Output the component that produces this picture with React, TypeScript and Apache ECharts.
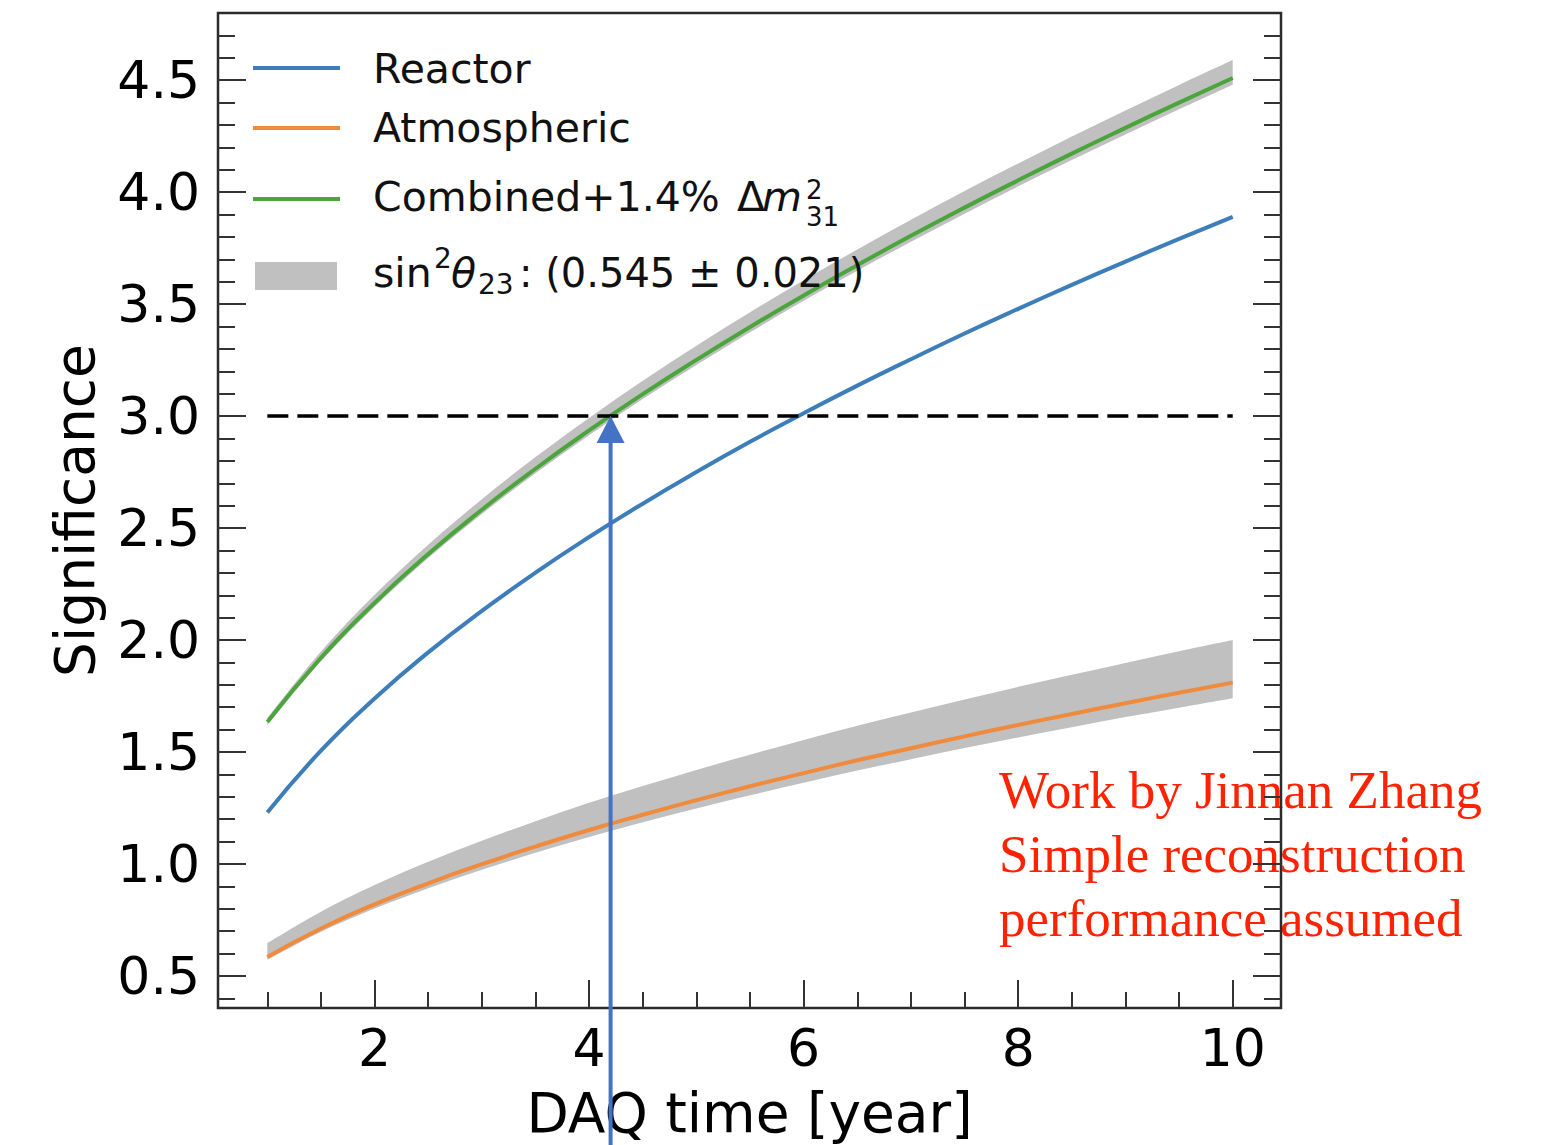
import React, { useEffect, useRef } from "react";
import * as echarts from "echarts";

// DAQ time grid (years)
const YEARS = [1, 1.5, 2, 2.5, 3, 3.5, 4, 4.5, 5, 5.5, 6, 6.5, 7, 7.5, 8, 8.5, 9, 9.5, 10];

// Significance curves
const REACTOR = [1.23, 1.506, 1.739, 1.945, 2.13, 2.301, 2.46, 2.609, 2.75, 2.885, 3.013, 3.136, 3.254, 3.369, 3.479, 3.586, 3.69, 3.791, 3.89];
const ATMOSPHERIC = [0.585, 0.712, 0.82, 0.914, 0.999, 1.078, 1.152, 1.22, 1.285, 1.347, 1.406, 1.463, 1.517, 1.57, 1.621, 1.67, 1.718, 1.765, 1.81];
const COMBINED = [1.634, 1.921, 2.166, 2.384, 2.582, 2.765, 2.936, 3.098, 3.251, 3.398, 3.539, 3.674, 3.805, 3.931, 4.053, 4.172, 4.287, 4.4, 4.51];

// sin^2(theta23) uncertainty bands
const COMBINED_BAND_LOW = [1.62, 1.905, 2.149, 2.366, 2.563, 2.745, 2.915, 3.076, 3.228, 3.374, 3.515, 3.649, 3.779, 3.904, 4.026, 4.144, 4.258, 4.37, 4.48];
const COMBINED_BAND_HIGH = [1.652, 1.949, 2.202, 2.426, 2.629, 2.817, 2.992, 3.158, 3.314, 3.464, 3.607, 3.744, 3.877, 4.005, 4.128, 4.249, 4.365, 4.479, 4.59];
const ATMOS_BAND_LOW = [0.572, 0.697, 0.801, 0.892, 0.974, 1.05, 1.121, 1.186, 1.248, 1.307, 1.363, 1.417, 1.468, 1.518, 1.565, 1.611, 1.656, 1.698, 1.74];
const ATMOS_BAND_HIGH = [0.647, 0.787, 0.906, 1.01, 1.104, 1.191, 1.273, 1.348, 1.42, 1.488, 1.554, 1.617, 1.676, 1.735, 1.791, 1.845, 1.898, 1.95, 2.0];

// 3 sigma reference line and the year at which the combined curve reaches it
const THRESHOLD = 3.0;
const THRESHOLD_SPAN = [1, 10];
const CROSSING_YEAR = 4.2;

// Axis ticks
const X_MAJOR = [2, 4, 6, 8, 10];
const X_MINOR = [1, 1.5, 2.5, 3, 3.5, 4.5, 5, 5.5, 6.5, 7, 7.5, 8.5, 9, 9.5];
const Y_MAJOR = [0.5, 1.0, 1.5, 2.0, 2.5, 3.0, 3.5, 4.0, 4.5];
const Y_MINOR = [
  0.4, 0.6, 0.7, 0.8, 0.9, 1.1, 1.2, 1.3, 1.4, 1.6, 1.7, 1.8, 1.9, 2.1, 2.2, 2.3, 2.4,
  2.6, 2.7, 2.8, 2.9, 3.1, 3.2, 3.3, 3.4, 3.6, 3.7, 3.8, 3.9, 4.1, 4.2, 4.3, 4.4, 4.6, 4.7,
];
const X_RANGE = [0.54, 10.45];
const Y_RANGE = [0.357, 4.8];

const C_REACTOR = "#3c7dba";
const C_ATMOS = "#f08a3c";
const C_COMBINED = "#4ba53c";
const C_BAND = "#c0c0c0";
const C_ARROW = "#4472c4";
const FONT = "DejaVu Sans";
const TICK_COLOR = "#333";

type Pt = number[];

// Catmull-Rom curve through pixel points, written as cubic bezier segments
function curveThrough(pts: Pt[]): string {
  let d = "";
  for (let i = 0; i < pts.length - 1; i++) {
    const p0 = pts[i - 1] || pts[i];
    const p1 = pts[i];
    const p2 = pts[i + 1];
    const p3 = pts[i + 2] || p2;
    const c1x = p1[0] + (p2[0] - p0[0]) / 6;
    const c1y = p1[1] + (p2[1] - p0[1]) / 6;
    const c2x = p2[0] - (p3[0] - p1[0]) / 6;
    const c2y = p2[1] - (p3[1] - p1[1]) / 6;
    d += ` C${c1x},${c1y} ${c2x},${c2y} ${p2[0]},${p2[1]}`;
  }
  return d;
}

// Shaded band between a lower and an upper edge, drawn once per series
function bandSeries(name: string, lo: number[], hi: number[]) {
  return {
    name,
    type: "custom",
    xAxisIndex: 0,
    yAxisIndex: 0,
    silent: true,
    clip: true,
    z: 1,
    data: YEARS.map((t, i) => [t, lo[i], hi[i]]),
    renderItem: (params: any, api: any) => {
      if (params.dataIndex !== 0) return null;
      const top: Pt[] = YEARS.map((t, i) => api.coord([t, hi[i]]));
      const bottom: Pt[] = YEARS.map((t, i) => api.coord([t, lo[i]])).reverse();
      const d =
        `M${top[0][0]},${top[0][1]}` +
        curveThrough(top) +
        ` L${bottom[0][0]},${bottom[0][1]}` +
        curveThrough(bottom) +
        " Z";
      return {
        type: "path",
        shape: { pathData: d },
        style: { fill: C_BAND, stroke: null },
      };
    },
  };
}

function lineSeries(name: string, values: number[], color: string) {
  return {
    name,
    type: "line",
    xAxisIndex: 0,
    yAxisIndex: 0,
    z: 3,
    smooth: true,
    symbol: "none",
    lineStyle: { color, width: 4 },
    data: YEARS.map((t, i) => [t, values[i]]),
  };
}

function tickAxis(kind: "x" | "y", position: string, values: number[], length: number, extra: any = {}) {
  return {
    type: "value",
    gridIndex: 0,
    position,
    min: kind === "x" ? X_RANGE[0] : Y_RANGE[0],
    max: kind === "x" ? X_RANGE[1] : Y_RANGE[1],
    axisLine: { show: false },
    splitLine: { show: false },
    axisTick: {
      show: true,
      inside: true,
      length,
      customValues: values,
      lineStyle: { color: TICK_COLOR, width: 2 },
    },
    axisLabel: { show: false },
    ...extra,
  };
}

const option: any = {
  animation: false,
  backgroundColor: "#fff",
  grid: {
    left: 218,
    top: 13,
    right: 272,
    bottom: 137,
    show: true,
    borderColor: "#2b2b2b",
    borderWidth: 2.5,
    backgroundColor: "transparent",
    containLabel: false,
    outerBoundsMode: "none",
  },
  xAxis: [
    tickAxis("x", "bottom", X_MAJOR, 28, {
      axisLabel: {
        show: true,
        customValues: X_MAJOR,
        margin: 14,
        color: "#000",
        fontSize: 52,
        fontFamily: FONT,
        formatter: (v: number) => String(v),
      },
      name: "DAQ time [year]",
      nameLocation: "middle",
      nameGap: 77,
      nameTextStyle: { color: "#000", fontSize: 55, fontFamily: FONT },
    }),
    tickAxis("x", "bottom", X_MINOR, 16),
  ],
  yAxis: [
    tickAxis("y", "left", Y_MAJOR, 28, {
      axisLabel: {
        show: true,
        customValues: Y_MAJOR,
        margin: 18,
        color: "#000",
        fontSize: 52,
        fontFamily: FONT,
        formatter: (v: number) => v.toFixed(1),
      },
      name: "Significance",
      nameLocation: "middle",
      nameGap: 116,
      nameTextStyle: { color: "#000", fontSize: 55, fontFamily: FONT },
    }),
    tickAxis("y", "left", Y_MINOR, 17),
    tickAxis("y", "right", Y_MAJOR, 28),
    tickAxis("y", "right", Y_MINOR, 17),
  ],
  series: [
    bandSeries("combined-band", COMBINED_BAND_LOW, COMBINED_BAND_HIGH),
    bandSeries("atmos-band", ATMOS_BAND_LOW, ATMOS_BAND_HIGH),
    lineSeries("Reactor", REACTOR, C_REACTOR),
    lineSeries("Atmospheric", ATMOSPHERIC, C_ATMOS),
    lineSeries("Combined", COMBINED, C_COMBINED),
    {
      name: "3 sigma",
      type: "line",
      xAxisIndex: 0,
      yAxisIndex: 0,
      z: 4,
      symbol: "none",
      lineStyle: { color: "#000", width: 3.5, type: [21, 9] },
      data: THRESHOLD_SPAN.map((t) => [t, THRESHOLD]),
    },
  ],
};

function txt(text: string, x: number, y: number, size: number, extra: any = {}) {
  return {
    type: "text",
    z: 10,
    silent: true,
    style: {
      text,
      x,
      y,
      fill: "#111",
      fontSize: size,
      fontFamily: FONT,
      align: "left",
      verticalAlign: "middle",
      ...extra,
    },
  };
}

function legendGraphics() {
  const lineItem = (y: number, color: string) => ({
    type: "line",
    z: 10,
    silent: true,
    shape: { x1: 253, y1: y, x2: 340, y2: y },
    style: { stroke: color, lineWidth: 4 },
  });
  return [
    lineItem(68, C_REACTOR),
    lineItem(128, C_ATMOS),
    lineItem(199, C_COMBINED),
    {
      type: "rect",
      z: 10,
      silent: true,
      shape: { x: 255, y: 262, width: 82, height: 28 },
      style: { fill: C_BAND },
    },
    txt("Reactor", 373, 69, 41),
    txt("Atmospheric", 373, 128, 41),
    txt("Combined+1.4%", 373, 197, 41),
    txt("Δ", 737, 197, 41),
    txt("m", 762, 197, 41, { fontStyle: "italic" }),
    txt("2", 806, 190, 26, { lineHeight: 26 }),
    txt("31", 806, 217, 26, { lineHeight: 26 }),
    txt("sin", 373, 273, 41),
    txt("2", 434, 258, 28),
    txt("θ", 451, 273, 41, { fontStyle: "italic" }),
    txt("23", 478, 284, 28),
    txt(": (0.545 ± 0.021)", 519, 273, 40),
  ];
}

export default function App() {
  const ref = useRef<HTMLDivElement>(null);
  useEffect(() => {
    if (!ref.current) return;
    const chart = echarts.init(ref.current, null, { renderer: "svg" });
    chart.setOption(option);
    const [px, py] = chart.convertToPixel({ xAxisIndex: 0, yAxisIndex: 0 }, [CROSSING_YEAR, THRESHOLD]) as number[];
    const h = chart.getHeight();
    chart.setOption({
      graphic: [
        ...legendGraphics(),
        {
          // note text sits beneath the plot frame and its ticks
          type: "text",
          z: -1,
          silent: true,
          style: {
            text: "Work by Jinnan Zhang\nSimple reconstruction\nperformance assumed",
            x: 999,
            y: 758,
            fill: "#ff2200",
            fontSize: 53,
            lineHeight: 64,
            fontFamily: "Liberation Serif",
            align: "left",
            verticalAlign: "top",
          },
        },
        {
          type: "line",
          z: 20,
          silent: true,
          shape: { x1: px, y1: h, x2: px, y2: py + 24 },
          style: { stroke: C_ARROW, lineWidth: 4 },
        },
        {
          type: "polygon",
          z: 20,
          silent: true,
          shape: { points: [[px, py], [px - 14, py + 27], [px + 14, py + 27]] },
          style: { fill: C_ARROW },
        },
      ],
    });
    return () => chart.dispose();
  }, []);
  return (
    <div
      ref={ref}
      style={{ position: "fixed", left: 0, top: 0, width: 1553, height: 1145, background: "#fff" }}
    />
  );
}
